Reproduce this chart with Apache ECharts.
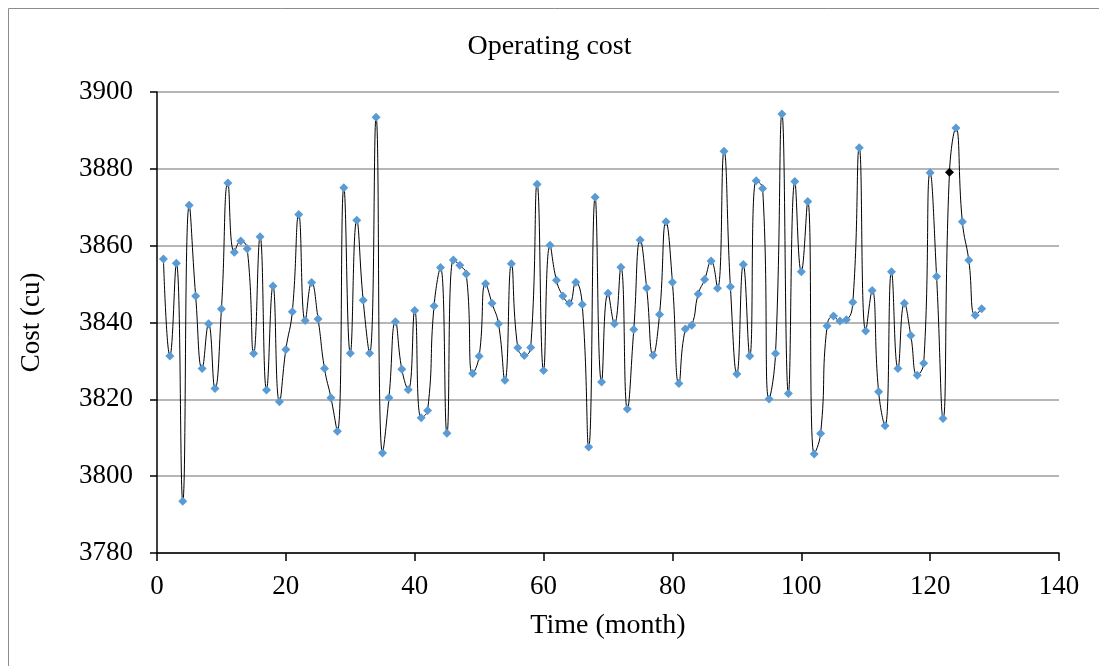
<!DOCTYPE html>
<html>
<head>
<meta charset="utf-8">
<title>Operating cost</title>
<script src="https://cdn.jsdelivr.net/npm/echarts@6/dist/echarts.min.js"></script>
<style>
  html, body { margin: 0; padding: 0; background: #ffffff; }
  #chart { width: 1099px; height: 666px; }
</style>
</head>
<body>
<div id="chart"></div>
<script>
// Monthly operating cost, months 1..128
const costValues = [
  3856.5, 3831.3, 3855.4, 3793.5, 3870.5, 3846.9, 3828.0, 3839.7, 3822.8, 3843.5,
  3876.3, 3858.3, 3861.2, 3859.2, 3831.9, 3862.3, 3822.4, 3849.5, 3819.4, 3833.0,
  3842.8, 3868.1, 3840.5, 3850.4, 3840.9, 3828.0, 3820.4, 3811.7, 3875.1, 3832.0,
  3866.6, 3845.8, 3832.0, 3893.4, 3806.0, 3820.4, 3840.2, 3827.8, 3822.5, 3843.1,
  3815.2, 3817.1, 3844.3, 3854.3, 3811.2, 3856.3, 3854.9, 3852.6, 3826.7, 3831.2,
  3850.1, 3845.0, 3839.7, 3825.0, 3855.3, 3833.4, 3831.4, 3833.5, 3876.0, 3827.5,
  3860.1, 3851.0, 3846.9, 3845.0, 3850.5, 3844.7, 3807.6, 3872.6, 3824.5, 3847.6,
  3839.7, 3854.4, 3817.5, 3838.2, 3861.5, 3849.0, 3831.5, 3842.1, 3866.2, 3850.5,
  3824.1, 3838.3, 3839.3, 3847.4, 3851.2, 3856.0, 3848.9, 3884.6, 3849.3, 3826.6,
  3855.1, 3831.3, 3876.9, 3874.9, 3820.1, 3831.9, 3894.3, 3821.5, 3876.7, 3853.2,
  3871.5, 3805.8, 3811.1, 3839.1, 3841.7, 3840.4, 3840.7, 3845.3, 3885.5, 3837.8,
  3848.3, 3822.0, 3813.1, 3853.2, 3828.0, 3845.0, 3836.6, 3826.3, 3829.4, 3879.0,
  3852.0, 3815.0, 3879.1, 3890.6, 3866.2, 3856.2, 3841.9, 3843.6
];
const months = costValues.map((_, i) => i + 1);
const highlightedMonth = 123;

const xTicks = [0, 20, 40, 60, 80, 100, 120, 140];
const yTicks = [3780, 3800, 3820, 3840, 3860, 3880, 3900];

const serif = '"Liberation Serif", "DejaVu Serif", serif';
const markerBlue = '#5B9BD5';

const seriesData = months.map((m, i) => {
  const point = { value: [m, costValues[i]] };
  if (m === highlightedMonth) {
    point.itemStyle = { color: '#000000' };
  }
  return point;
});

const chart = echarts.init(document.getElementById('chart'), null, { renderer: 'canvas' });

chart.setOption({
  animation: false,
  backgroundColor: '#ffffff',
  title: {
    text: 'Operating cost',
    left: 'center',
    top: 28,
    textStyle: { fontFamily: serif, fontSize: 28, fontWeight: 'normal', color: '#000' }
  },
  graphic: [
    {
      type: 'rect',
      shape: { x: 8.5, y: 8.5, width: 1200, height: 800 },
      style: { fill: 'none', stroke: '#8c8c8c', lineWidth: 1 },
      silent: true,
      z: -1
    }
  ],
  grid: { left: 157, right: 40, top: 92, bottom: 113, containLabel: false },
  xAxis: {
    type: 'value',
    min: xTicks[0],
    max: xTicks[xTicks.length - 1],
    interval: 20,
    name: 'Time (month)',
    nameLocation: 'middle',
    nameGap: 59,
    nameTextStyle: { fontFamily: serif, fontSize: 28, color: '#000' },
    axisLine: { show: true, onZero: false, lineStyle: { color: '#000', width: 1.5 } },
    axisTick: { show: true, inside: false, length: 8, lineStyle: { color: '#000', width: 1.5 } },
    axisLabel: { fontFamily: serif, fontSize: 27, color: '#000', margin: 20, formatter: v => String(v) },
    splitLine: { show: false }
  },
  yAxis: {
    type: 'value',
    min: yTicks[0],
    max: yTicks[yTicks.length - 1],
    interval: 20,
    name: 'Cost (cu)',
    nameLocation: 'middle',
    nameGap: 112,
    nameTextStyle: { fontFamily: serif, fontSize: 27, color: '#000' },
    axisLine: { show: true, lineStyle: { color: '#000', width: 1.5 } },
    axisTick: { show: true, inside: false, length: 7, lineStyle: { color: '#000', width: 1.5 } },
    axisLabel: { fontFamily: serif, fontSize: 27, color: '#000', margin: 24, formatter: v => String(v) },
    splitLine: { show: true, lineStyle: { color: '#9e9e9e', width: 1.5 } }
  },
  series: [
    {
      type: 'line',
      data: seriesData,
      smooth: 0.5,
      symbol: 'diamond',
      symbolSize: 9,
      showSymbol: true,
      itemStyle: { color: markerBlue },
      lineStyle: { color: '#000', width: 1 },
      z: 3
    }
  ]
});
</script>
</body>
</html>
